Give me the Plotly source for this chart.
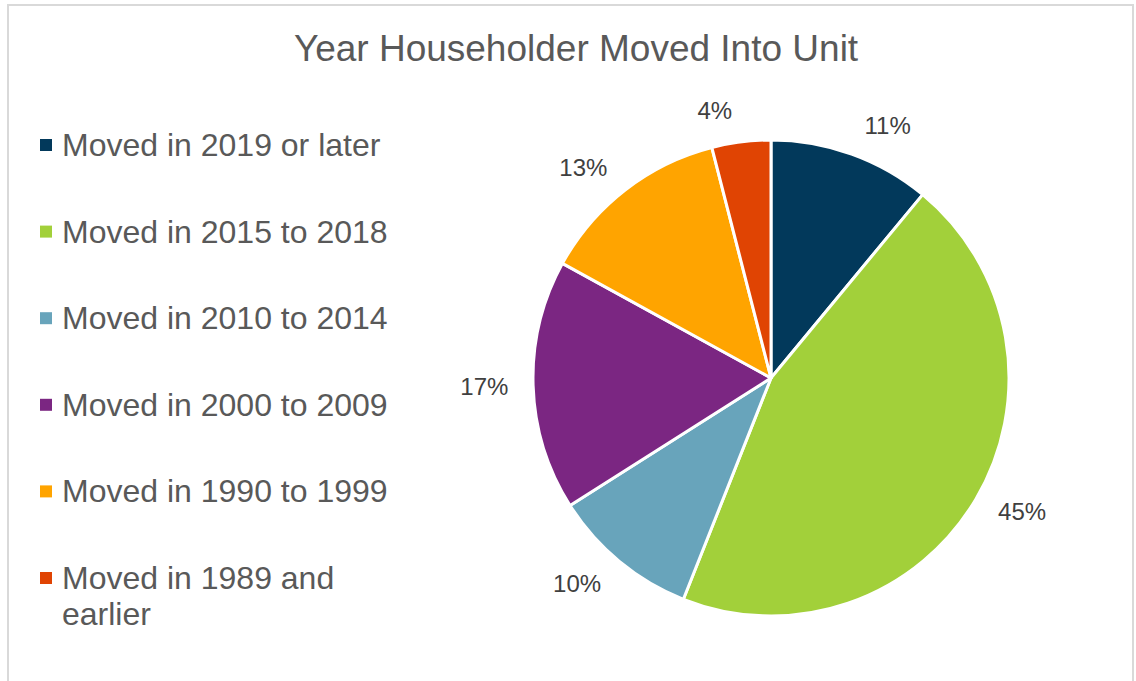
import plotly.graph_objects as go

# Share of householders by year moved into unit
categories = [
    "Moved in 2019 or later",
    "Moved in 2015 to 2018",
    "Moved in 2010 to 2014",
    "Moved in 2000 to 2009",
    "Moved in 1990 to 1999",
    "Moved in 1989 and<br>earlier",
]
shares = [11, 45, 10, 17, 13, 4]
colors = ["#02395B", "#A2D03A", "#68A4BB", "#7B2682", "#FFA400", "#E04403"]

W, H = 1136, 681
FONT = "Liberation Sans, Arial, sans-serif"
CX, CY, R = 771, 378, 238      # pie centre and radius in pixels
R_TEXT = 256                   # radius of the ring that carries the outside labels


def domain(radius):
    return dict(x=[(CX - radius) / W, (CX + radius) / W],
                y=[1 - (CY + radius) / H, 1 - (CY - radius) / H])


fig = go.Figure()
# Transparent, slightly larger pie that only places the percentage labels
fig.add_trace(go.Pie(
    labels=categories,
    values=shares,
    sort=False,
    direction="clockwise",
    rotation=0,
    marker=dict(colors=["rgba(0,0,0,0)"] * len(shares), line=dict(width=0)),
    texttemplate="%{value}%",
    textposition="outside",
    textfont=dict(family=FONT, size=24, color="#404040"),
    showlegend=False,
    hoverinfo="skip",
    domain=domain(R_TEXT),
))
# Visible pie
fig.add_trace(go.Pie(
    labels=categories,
    values=shares,
    sort=False,
    direction="clockwise",
    rotation=0,
    marker=dict(colors=colors, line=dict(color="white", width=3)),
    textinfo="none",
    showlegend=False,
    hoverinfo="label+percent",
    domain=domain(R),
))

# Legend drawn as swatches and text on the left
legend_top = 145
legend_step = 86.6
line_gap = 36
for i, (name, col) in enumerate(zip(categories, colors)):
    yc = legend_top + i * legend_step
    fig.add_shape(type="rect", xref="paper", yref="paper",
                  x0=40 / W, x1=52 / W, y0=1 - (yc + 6) / H, y1=1 - (yc - 6) / H,
                  fillcolor=col, line=dict(width=0))
    for j, part in enumerate(name.split("<br>")):
        fig.add_annotation(xref="paper", yref="paper", x=60 / W,
                           y=1 - (yc + j * line_gap) / H,
                           xanchor="left", yanchor="middle", align="left",
                           text=part, showarrow=False,
                           font=dict(family=FONT, size=32, color="#595959"))

# Chart frame
fig.add_shape(type="rect", xref="paper", yref="paper",
              x0=8 / W, x1=1133 / W, y0=-0.05, y1=1 - 5 / H,
              line=dict(color="#D9D9D9", width=2), fillcolor="rgba(0,0,0,0)")

fig.update_layout(
    width=W, height=H,
    margin=dict(l=0, r=0, t=0, b=0),
    paper_bgcolor="white",
    plot_bgcolor="white",
    title=dict(text="Year Householder Moved Into Unit", x=576 / W, xanchor="center",
               y=1 - 48 / H, yanchor="middle",
               font=dict(family=FONT, size=37, color="#595959")),
)

fig.write_html("out.html")
